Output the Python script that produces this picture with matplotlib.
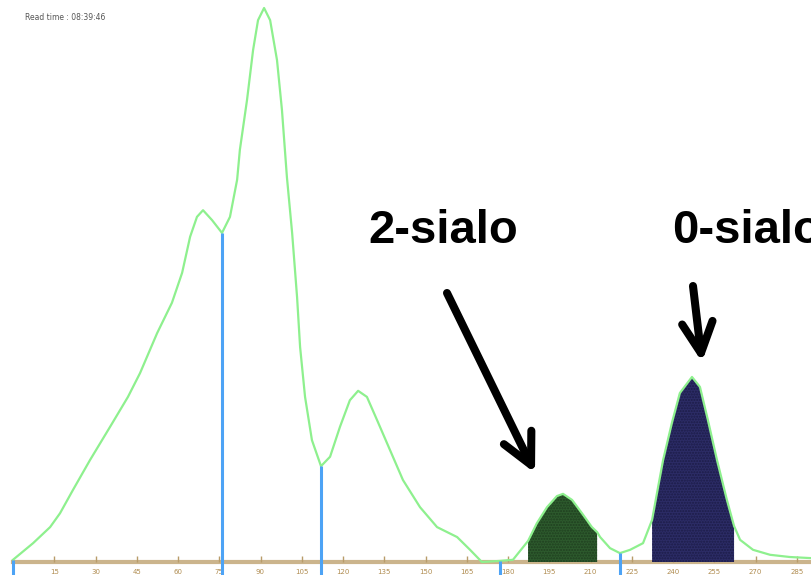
import numpy as np
import matplotlib
matplotlib.use("Agg")
import matplotlib.pyplot as plt

# ── Data ─────────────────────────────────────────────────────────────────────

# retention time (min) and signal (peak height = 100)
times = [0.0, 7.3, 13.5, 17.1, 21.8, 28.0, 35.3, 41.8, 46.2, 52.4, 57.8, 61.5,
         64.4, 66.9, 69.1, 72.4, 76.0, 78.9, 81.5, 82.5, 85.1, 87.3, 89.1, 91.3,
         93.5, 96.0, 97.8, 99.6, 101.5, 103.3, 104.4, 106.2, 108.7, 112.0,
         115.3, 118.9, 122.5, 125.5, 128.7, 132.4, 137.1, 141.8, 148.0, 154.2,
         161.5, 166.2, 170.5, 177.1, 181.8, 187.3, 190.5, 194.2, 197.8, 200.0,
         203.3, 206.9, 210.5, 212.4, 213.5, 217.1, 220.7, 224.4, 229.1, 232.4,
         234.2, 236.4, 239.6, 242.5, 246.9, 249.8, 252.7, 256.0, 259.6, 262.2,
         264.4, 269.1, 275.3, 282.5, 290.2]
signal = [0.4, 3.4, 6.3, 8.8, 13.0, 18.4, 24.4, 29.8, 34.1, 41.3, 46.8, 52.2,
          58.7, 62.3, 63.5, 61.7, 59.4, 62.3, 69.0, 74.4, 83.4, 92.4, 97.8, 100.0,
          97.8, 90.6, 81.6, 69.5, 59.4, 47.8, 38.8, 29.8, 22.0, 17.3,
          19.0, 24.4, 29.2, 30.9, 29.8, 25.6, 20.2, 14.8, 9.9, 6.3,
          4.5, 2.2, 0.0, 0.2, 0.4, 3.8, 7.0, 9.9, 11.9, 12.3,
          11.2, 8.8, 6.3, 5.4, 4.5, 2.5, 1.6, 2.2, 3.4, 7.6,
          12.5, 18.4, 25.1, 30.5, 33.4, 31.6, 25.6, 18.4, 11.2, 6.5,
          4.0, 2.2, 1.3, 0.9, 0.7]

# integration boundaries (vertical drop lines)
drop_lines = [0.0, 76.0, 112.0, 177.1, 220.7]

# shaded peaks: (start, end)
peak_2sialo = (187.3, 212.4)
peak_0sialo = (232.4, 262.2)

tick_values = list(range(15, 290, 15))
read_time = "Read time : 08:39:46"

# ── Plot ─────────────────────────────────────────────────────────────────────

W, H = 811, 575
fig = plt.figure(figsize=(W / 100, H / 100), dpi=100)
ax = fig.add_axes([0, 0, 1, 1])

t = np.array(times)
s = np.array(signal)

# px: x = 13 + 2.75*t, baseline at 562 px, 5.54 px per signal unit
ax.set_xlim(-13 / 2.75, (W - 13) / 2.75)
ax.set_ylim(-13 / 5.54, 562 / 5.54)

ax.fill_between(t, 0, s, where=(t >= peak_2sialo[0]) & (t <= peak_2sialo[1]),
                color="#2d5a2d", hatch="......", edgecolor="#1f3f1f",
                linewidth=0, zorder=2)
ax.fill_between(t, 0, s, where=(t >= peak_0sialo[0]) & (t <= peak_0sialo[1]),
                color="#2c2c66", hatch="......", edgecolor="#1c1c48",
                linewidth=0, zorder=2)

ax.plot(t, s, color="#8ef08e", linewidth=1.6, zorder=3,
        solid_joinstyle="round")

for d in drop_lines:
    h = s[times.index(d)]
    ax.plot([d, d], [-13 / 5.54, h], color="#4da3f5", linewidth=2.2,
            zorder=4, solid_capstyle="butt")

# axis styled like the instrument software
for side in ("left", "right", "top"):
    ax.spines[side].set_visible(False)
ax.spines["bottom"].set_position(("data", 0))
ax.spines["bottom"].set_color("#cbb48c")
ax.spines["bottom"].set_linewidth(3)
ax.spines["bottom"].set_bounds(0, (W - 13) / 2.75)
ax.spines["bottom"].set_zorder(1)
ax.set_xticks(tick_values)
ax.set_xticklabels([str(v) for v in tick_values])
ax.tick_params(axis="x", direction="in", length=4, width=1, color="#b89c6a",
               labelsize=5, labelcolor="#b08c50", pad=5)
ax.set_yticks([])

fig.text(25 / W, 1 - 20 / H, read_time, fontsize=5.5, color="#555555",
         ha="left", va="baseline")

# annotations (0-sialo runs off the right edge, as in the original slide)
lab = dict(fontsize=34, fontweight="bold", family="Liberation Sans",
           color="black", va="baseline", ha="left")
fig.text(368 / W, 1 - 243 / H, "2-sialo", **lab)
fig.text(672 / W, 1 - 243 / H, "0-sialo", **lab)

arrow = dict(arrowstyle="->, head_length=2.2, head_width=1.1",
             color="black", linewidth=5.8, shrinkA=0, shrinkB=0)
ax.annotate("", xy=(535, H - 473), xytext=(447, H - 293),
            xycoords="figure pixels", textcoords="figure pixels",
            arrowprops=arrow)
ax.annotate("", xy=(702, H - 362), xytext=(693, H - 286),
            xycoords="figure pixels", textcoords="figure pixels",
            arrowprops=arrow)

fig.savefig("out.png", dpi=100)
